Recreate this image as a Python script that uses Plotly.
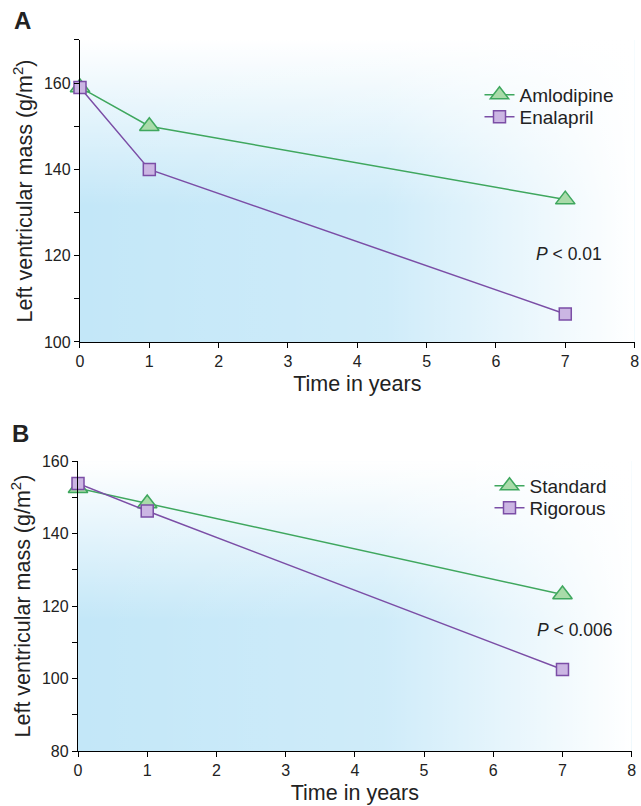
import base64
import plotly.graph_objects as go

# ---- data ----
years = [0, 1, 7]
amlodipine = [159, 150, 133]
enalapril = [159, 140, 106.5]
standard = [152.5, 148.3, 123.2]
rigorous = [153.8, 146.2, 102.5]

x_ticks = [0, 1, 2, 3, 4, 5, 6, 7, 8]
ya_ticks = [100, 110, 120, 130, 140, 150, 160, 170]
ya_text = ["100", "", "120", "", "140", "", "160", ""]
yb_ticks = [80, 90, 100, 110, 120, 130, 140, 150, 160]
yb_text = ["80", "", "100", "", "120", "", "140", "", "160"]

GREEN = "#3fa75e"
GREEN_FILL = "#a9dba9"
PURPLE = "#7b4ea6"
PURPLE_FILL = "#cbb6e3"
FONT = "Liberation Sans, Arial, sans-serif"

svg = (
    "<svg xmlns='http://www.w3.org/2000/svg' width='100' height='100' viewBox='0 0 100 100' preserveAspectRatio='none'>"
    "<defs>"
    "<linearGradient id='h' x1='0' y1='0' x2='1' y2='0'>"
    "<stop offset='0' stop-color='#fff' stop-opacity='0'/>"
    "<stop offset='0.55' stop-color='#fff' stop-opacity='0.2'/>"
    "<stop offset='1' stop-color='#fff' stop-opacity='1'/>"
    "</linearGradient>"
    "<linearGradient id='v' x1='0' y1='0' x2='0' y2='1'>"
    "<stop offset='0' stop-color='#fff' stop-opacity='1'/>"
    "<stop offset='0.55' stop-color='#fff' stop-opacity='0'/>"
    "</linearGradient>"
    "</defs>"
    "<rect width='100' height='100' fill='#c3e7f8'/>"
    "<rect width='100' height='100' fill='url(#v)'/>"
    "<rect width='100' height='100' fill='url(#h)'/>"
    "</svg>"
)
src = "data:image/svg+xml;base64," + base64.b64encode(svg.encode()).decode()

fig = go.Figure()


def add_series(xs, ys, name, color, fill, symbol, size, xa, ya, legend):
    fig.add_trace(go.Scatter(
        x=xs, y=ys, name=name, mode="lines+markers",
        line=dict(color=color, width=1.5),
        marker=dict(symbol=symbol, size=size, color=fill, line=dict(color=color, width=1.5)),
        xaxis=xa, yaxis=ya, legend=legend, cliponaxis=False,
    ))


add_series(years, amlodipine, "Amlodipine", GREEN, GREEN_FILL, "triangle-up", 17, "x", "y", "legend")
add_series(years, enalapril, "Enalapril", PURPLE, PURPLE_FILL, "square", 12, "x", "y", "legend2")
add_series(years, standard, "Standard", GREEN, GREEN_FILL, "triangle-up", 17, "x2", "y2", "legend3")
add_series(years, rigorous, "Rigorous", PURPLE, PURPLE_FILL, "square", 12, "x2", "y2", "legend4")

axis_common = dict(
    showline=True, linecolor="black", linewidth=1.3, ticks="outside", ticklen=5,
    tickcolor="black", tickwidth=1.3, showgrid=False, zeroline=False, automargin=False,
    tickfont=dict(family=FONT, size=16, color="#222"),
)
title_font = dict(family=FONT, size=21.5, color="#222")


def one_legend(xpx, ypx):
    return dict(x=xpx / 641, y=1 - ypx / 806, xanchor="left", yanchor="middle",
                bgcolor="rgba(0,0,0,0)", font=dict(family=FONT, size=19, color="#222"),
                itemwidth=30)


fig.update_layout(
    width=641, height=806,
    margin=dict(l=0, r=0, t=0, b=0, autoexpand=False),
    paper_bgcolor="white", plot_bgcolor="white",
    font=dict(family=FONT, color="#222"),
    showlegend=True,
    xaxis=dict(domain=[0.1248, 0.99], range=[0, 8], tickvals=x_ticks, anchor="y",
               title=dict(text="Time in years", font=title_font, standoff=6), **axis_common),
    yaxis=dict(domain=[0.5757, 0.9504], range=[100, 170], tickvals=ya_ticks, ticktext=ya_text, anchor="x",
               title=dict(text="Left ventricular mass (g/m<sup>2</sup>)", font=title_font, standoff=5),
               **axis_common),
    xaxis2=dict(domain=[0.1217, 0.9855], range=[0, 8], tickvals=x_ticks, anchor="y2",
                title=dict(text="Time in years", font=title_font, standoff=6), **axis_common),
    yaxis2=dict(domain=[0.0682, 0.428], range=[80, 160], tickvals=yb_ticks, ticktext=yb_text, anchor="x2",
                title=dict(text="Left ventricular mass (g/m<sup>2</sup>)", font=title_font, standoff=5),
                **axis_common),
    legend=one_legend(479.5, 95),
    legend2=one_legend(479.5, 117),
    legend3=one_legend(489.5, 486),
    legend4=one_legend(489.5, 508),
    images=[
        dict(source=src, xref="x domain", yref="y domain", x=0, y=1, sizex=1, sizey=1,
             xanchor="left", yanchor="top", sizing="stretch", layer="below"),
        dict(source=src, xref="x2 domain", yref="y2 domain", x=0, y=1, sizex=1, sizey=1,
             xanchor="left", yanchor="top", sizing="stretch", layer="below"),
    ],
    annotations=[
        dict(text="<b>A</b>", xref="paper", yref="paper", x=12 / 641, y=1 - 20 / 806,
             xanchor="left", yanchor="middle", showarrow=False, font=dict(family=FONT, size=24, color="#222")),
        dict(text="<b>B</b>", xref="paper", yref="paper", x=10 / 641, y=1 - 433 / 806,
             xanchor="left", yanchor="middle", showarrow=False, font=dict(family=FONT, size=24, color="#222")),
        dict(text="<i>P</i> < 0.01", xref="x", yref="y", x=7.06, y=120.5, xanchor="center", yanchor="middle",
             showarrow=False, font=dict(family=FONT, size=17.5, color="#222")),
        dict(text="<i>P</i> < 0.006", xref="x2", yref="y2", x=7.18, y=113.4, xanchor="center", yanchor="middle",
             showarrow=False, font=dict(family=FONT, size=17.5, color="#222")),
    ],
)

fig.write_html("out.html", config={"displayModeBar": False},
               post_script="document.body.style.margin='0px';document.body.style.padding='0px';")
